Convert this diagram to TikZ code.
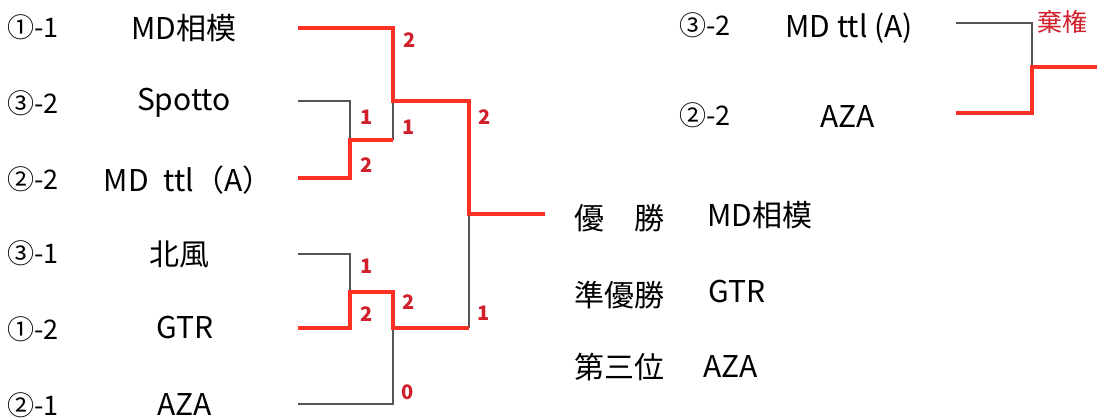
\documentclass[tikz,border=0pt]{standalone}
\usepackage{fontspec}
\setmainfont{Noto Sans CJK JP}
\definecolor{winred}{RGB}{255,48,36}
\definecolor{scorered}{RGB}{208,32,44}
\definecolor{losegray}{RGB}{85,85,85}
\tikzstyle{seed} = [anchor=west, inner sep=0pt, font=\fontsize{27}{27}\selectfont]
\tikzstyle{team} = [inner sep=0pt, font=\fontsize{30}{30}\selectfont]
\tikzstyle{result} = [anchor=west, inner sep=0pt, font=\fontsize{30}{30}\selectfont]
\tikzstyle{score} = [anchor=west, inner sep=0pt, text=scorered, font=\fontsize{20}{20}\selectfont\bfseries]
\tikzstyle{win} = [draw=winred, line width=4pt]
\tikzstyle{lose} = [draw=losegray, line width=1.3pt]

\begin{document}
\begin{tikzpicture}[x=1pt, y=-1pt]
        \useasboundingbox (0,0) rectangle (1097,419);

        \node (s1) [seed] at (7,27) {①-1};
        \node (s2) [seed] at (7,103) {③-2};
        \node (s3) [seed] at (7,179) {②-2};
        \node (s4) [seed] at (7,253) {③-1};
        \node (s5) [seed] at (7,329) {①-2};
        \node (s6) [seed] at (7,405) {②-1};

        \node (t1) [team] at (184,28) {MD相模};
        \node (t2) [team] at (184,103) {Spotto};
        \node (t3) [team] at (188,180) {MD\hspace{0.5em}ttl（A）};
        \node (t4) [team] at (179,254) {北風};
        \node (t5) [team] at (185,328) {GTR};
        \node (t6) [team] at (185,405) {AZA};

        \coordinate (e1) at (298,28);
        \coordinate (e2) at (298,101);
        \coordinate (e3) at (298,178);
        \coordinate (e4) at (298,254);
        \coordinate (e5) at (298,328);
        \coordinate (e6) at (298,404);
        \coordinate (m1) at (350,140);
        \coordinate (m2) at (350,292);
        \coordinate (m3) at (393,101);
        \coordinate (m4) at (393,328);
        \coordinate (m5) at (469,214);
        \coordinate (champ) at (545,214);

        \draw [lose] (e2) -| (m1);
        \draw [lose] (m1 -| m3) -- (m3);
        \draw [lose] (e4) -| (m2);
        \draw [lose] (e6) -| (m4);
        \draw [lose] (m4 -| m5) -- (m5);
        \draw [win] (e3) -| (m1) -- (m1 -| m3);
        \draw [win] (e1) -| (m3) -| (m5) -- (champ);
        \draw [win] (e5) -| (m2) -| (m4) -- (m4 -| m5);

        \node (r1) [score] at (403,40) {2};
        \node (r2) [score] at (360,117) {1};
        \node (r3) [score] at (402,127) {1};
        \node (r4) [score] at (478,117) {2};
        \node (r5) [score] at (360,165) {2};
        \node (r6) [score] at (360,266) {1};
        \node (r7) [score] at (360,314) {2};
        \node (r8) [score] at (402,302) {2};
        \node (r9) [score] at (477,313) {1};
        \node (r10) [score] at (401,392) {0};

        \node (first) [result] at (574,218) {優\hspace{1em}勝};
        \node (second) [result] at (574,295) {準優勝};
        \node (third) [result] at (574,367) {第三位};
        \node (firstteam) [result] at (707,215) {MD相模};
        \node (secondteam) [result] at (708,292) {GTR};
        \node (thirdteam) [result] at (703,367) {AZA};

        \node (s7) [seed] at (679,25) {③-2};
        \node (s8) [seed] at (679,115) {②-2};
        \node (t7) [team] at (849,28) {MD ttl (A)};
        \node (t8) [team] at (848,117) {AZA};

        \coordinate (e7) at (956,23);
        \coordinate (e8) at (956,113);
        \coordinate (m6) at (1032,67);
        \coordinate (forfeit) at (1097,67);

        \draw [lose] (e7) -| (m6);
        \draw [win] (e8) -| (m6) -- (forfeit);
        \node (r11) [score, font=\fontsize{25}{25}\selectfont] at (1037,22) {棄権};
\end{tikzpicture}
\end{document}
